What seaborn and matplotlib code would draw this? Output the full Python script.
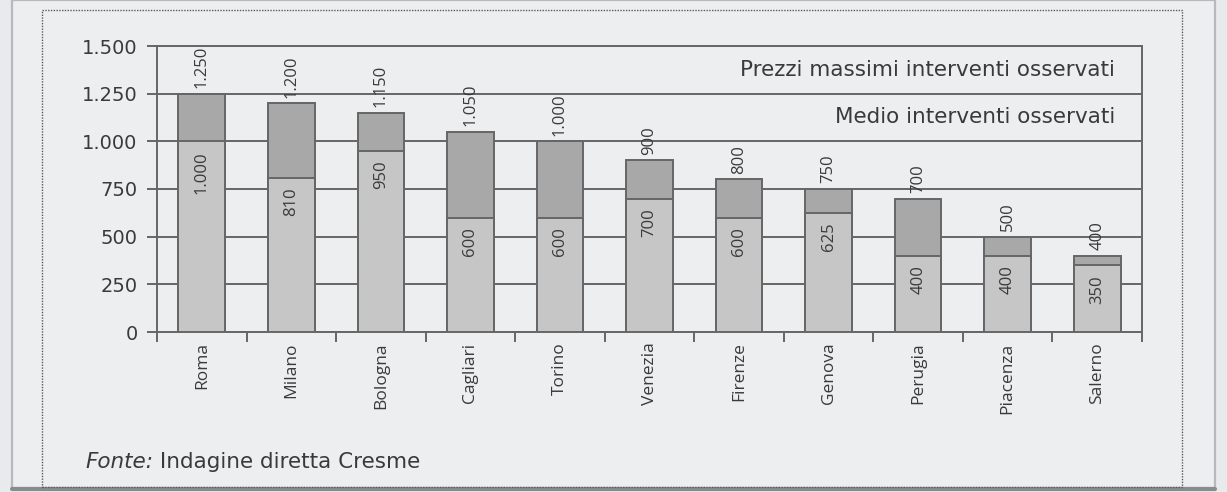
import matplotlib
matplotlib.use("Agg")
import matplotlib.pyplot as plt
import matplotlib.ticker as mticker
from matplotlib.patches import Rectangle
from matplotlib.lines import Line2D
import seaborn as sns

# Prezzi per intervento nelle città osservate
cities = ["Roma", "Milano", "Bologna", "Cagliari", "Torino", "Venezia",
          "Firenze", "Genova", "Perugia", "Piacenza", "Salerno"]
prezzi_massimi = [1250, 1200, 1150, 1050, 1000, 900, 800, 750, 700, 500, 400]
prezzi_medi = [1000, 810, 950, 600, 600, 700, 600, 625, 400, 400, 350]
y_ticks = [0, 250, 500, 750, 1000, 1250, 1500]
label_max = "Prezzi massimi interventi osservati"
label_medio = "Medio interventi osservati"
fonte = "Indagine diretta Cresme"

sns.set_theme(style="white")
plt.rcParams["font.family"] = ["Open Sans", "DejaVu Sans"]
WIDE = ["DejaVu Sans"]  # wider face for horizontal text

W, H = 1227, 492
BG = "#e9eaec"
LINE = "#666666"
TXT = "#3a3a3a"
DARK = "#a8a8a8"
LIGHT = "#c6c6c6"

fig = plt.figure(figsize=(W / 100, H / 100), dpi=100, facecolor=BG)


def fx(px):
    return px / W


def fy(py):
    return 1 - py / H


# page edges and dotted frame
fig.add_artist(Rectangle((fx(12), fy(488)), fx(1215) - fx(12), fy(0) - fy(488),
                         transform=fig.transFigure, facecolor="#edeef0",
                         edgecolor="#b8b9bc", lw=1.6, zorder=0))
fig.add_artist(Line2D([fx(12), fx(1215)], [fy(489), fy(489)],
                      transform=fig.transFigure, color="#8a8b8e", lw=3, zorder=1))
fig.add_artist(Rectangle((fx(42), fy(487)), fx(1182) - fx(42), fy(10) - fy(487),
                         transform=fig.transFigure, facecolor="none",
                         edgecolor="#5a5a5a", lw=1.0, ls=(0, (1, 1)), zorder=1))

ax = fig.add_axes([fx(157), fy(332), fx(1142) - fx(157), fy(46) - fy(332)])
ax.set_facecolor("none")

bar_width = 0.52
sns.barplot(x=cities, y=prezzi_massimi, order=cities, color=DARK, saturation=1,
            width=bar_width, edgecolor=LINE, linewidth=1.4, ax=ax, zorder=3)
sns.barplot(x=cities, y=prezzi_medi, order=cities, color=LIGHT, saturation=1,
            width=bar_width, edgecolor=LINE, linewidth=1.4, ax=ax, zorder=3)


def fmt(v):
    return f"{v:,}".replace(",", ".")


for i, (vmax, vmed) in enumerate(zip(prezzi_massimi, prezzi_medi)):
    ax.annotate(fmt(vmax), xy=(i, vmax), xytext=(0, 4), textcoords="offset points",
                rotation=90, ha="center", va="bottom", fontsize=12, color=TXT,
                zorder=5)
    ax.annotate(fmt(vmed), xy=(i, vmed), xytext=(0, -7), textcoords="offset points",
                rotation=90, ha="center", va="top", fontsize=12, color=TXT,
                zorder=5)

ax.set_xlim(-0.5, len(cities) - 0.5)
ax.set_ylim(0, 1500)
ax.set_yticks(y_ticks)
ax.yaxis.set_major_formatter(mticker.FuncFormatter(lambda v, p: fmt(int(v))))
ax.set_axisbelow(True)
ax.yaxis.grid(True, color=LINE, lw=1.4)
ax.xaxis.grid(False)
ax.set_xlabel("")
ax.set_ylabel("")

ax.set_xticks(range(len(cities)))
ax.set_xticklabels(cities, rotation=90, va="top", ha="center")
ax.set_xticks([i - 0.5 for i in range(len(cities) + 1)], minor=True)
ax.tick_params(axis="x", which="major", length=0, pad=7.5, labelsize=12.5,
               labelcolor=TXT)
ax.tick_params(axis="x", which="minor", length=7, width=1.4, color=LINE,
               direction="out", bottom=True)
ax.tick_params(axis="y", which="major", length=7, width=1.4, color=LINE,
               direction="out", left=True, pad=7, labelcolor=TXT)
for lab in ax.get_yticklabels():
    lab.set_family(WIDE)
    lab.set_fontsize(14)

for s in ax.spines.values():
    s.set_visible(True)
    s.set_color(LINE)
    s.set_linewidth(1.4)

ax.text(0.9726, 1375, label_max, transform=ax.get_yaxis_transform(),
        ha="right", va="center", fontsize=15.5, color=TXT, family=WIDE)
ax.text(0.9726, 1128, label_medio, transform=ax.get_yaxis_transform(),
        ha="right", va="center", fontsize=15.5, color=TXT, family=WIDE)

t1 = fig.text(fx(85), fy(462), "Fonte:", style="italic", fontsize=15.5,
              color=TXT, ha="left", va="center", family=WIDE)
ax.annotate(" " + fonte, xy=(1, 0.5), xycoords=t1, ha="left", va="center",
            fontsize=15.5, color=TXT, family=WIDE, annotation_clip=False)

fig.savefig("out.png", dpi=100, facecolor=BG)
